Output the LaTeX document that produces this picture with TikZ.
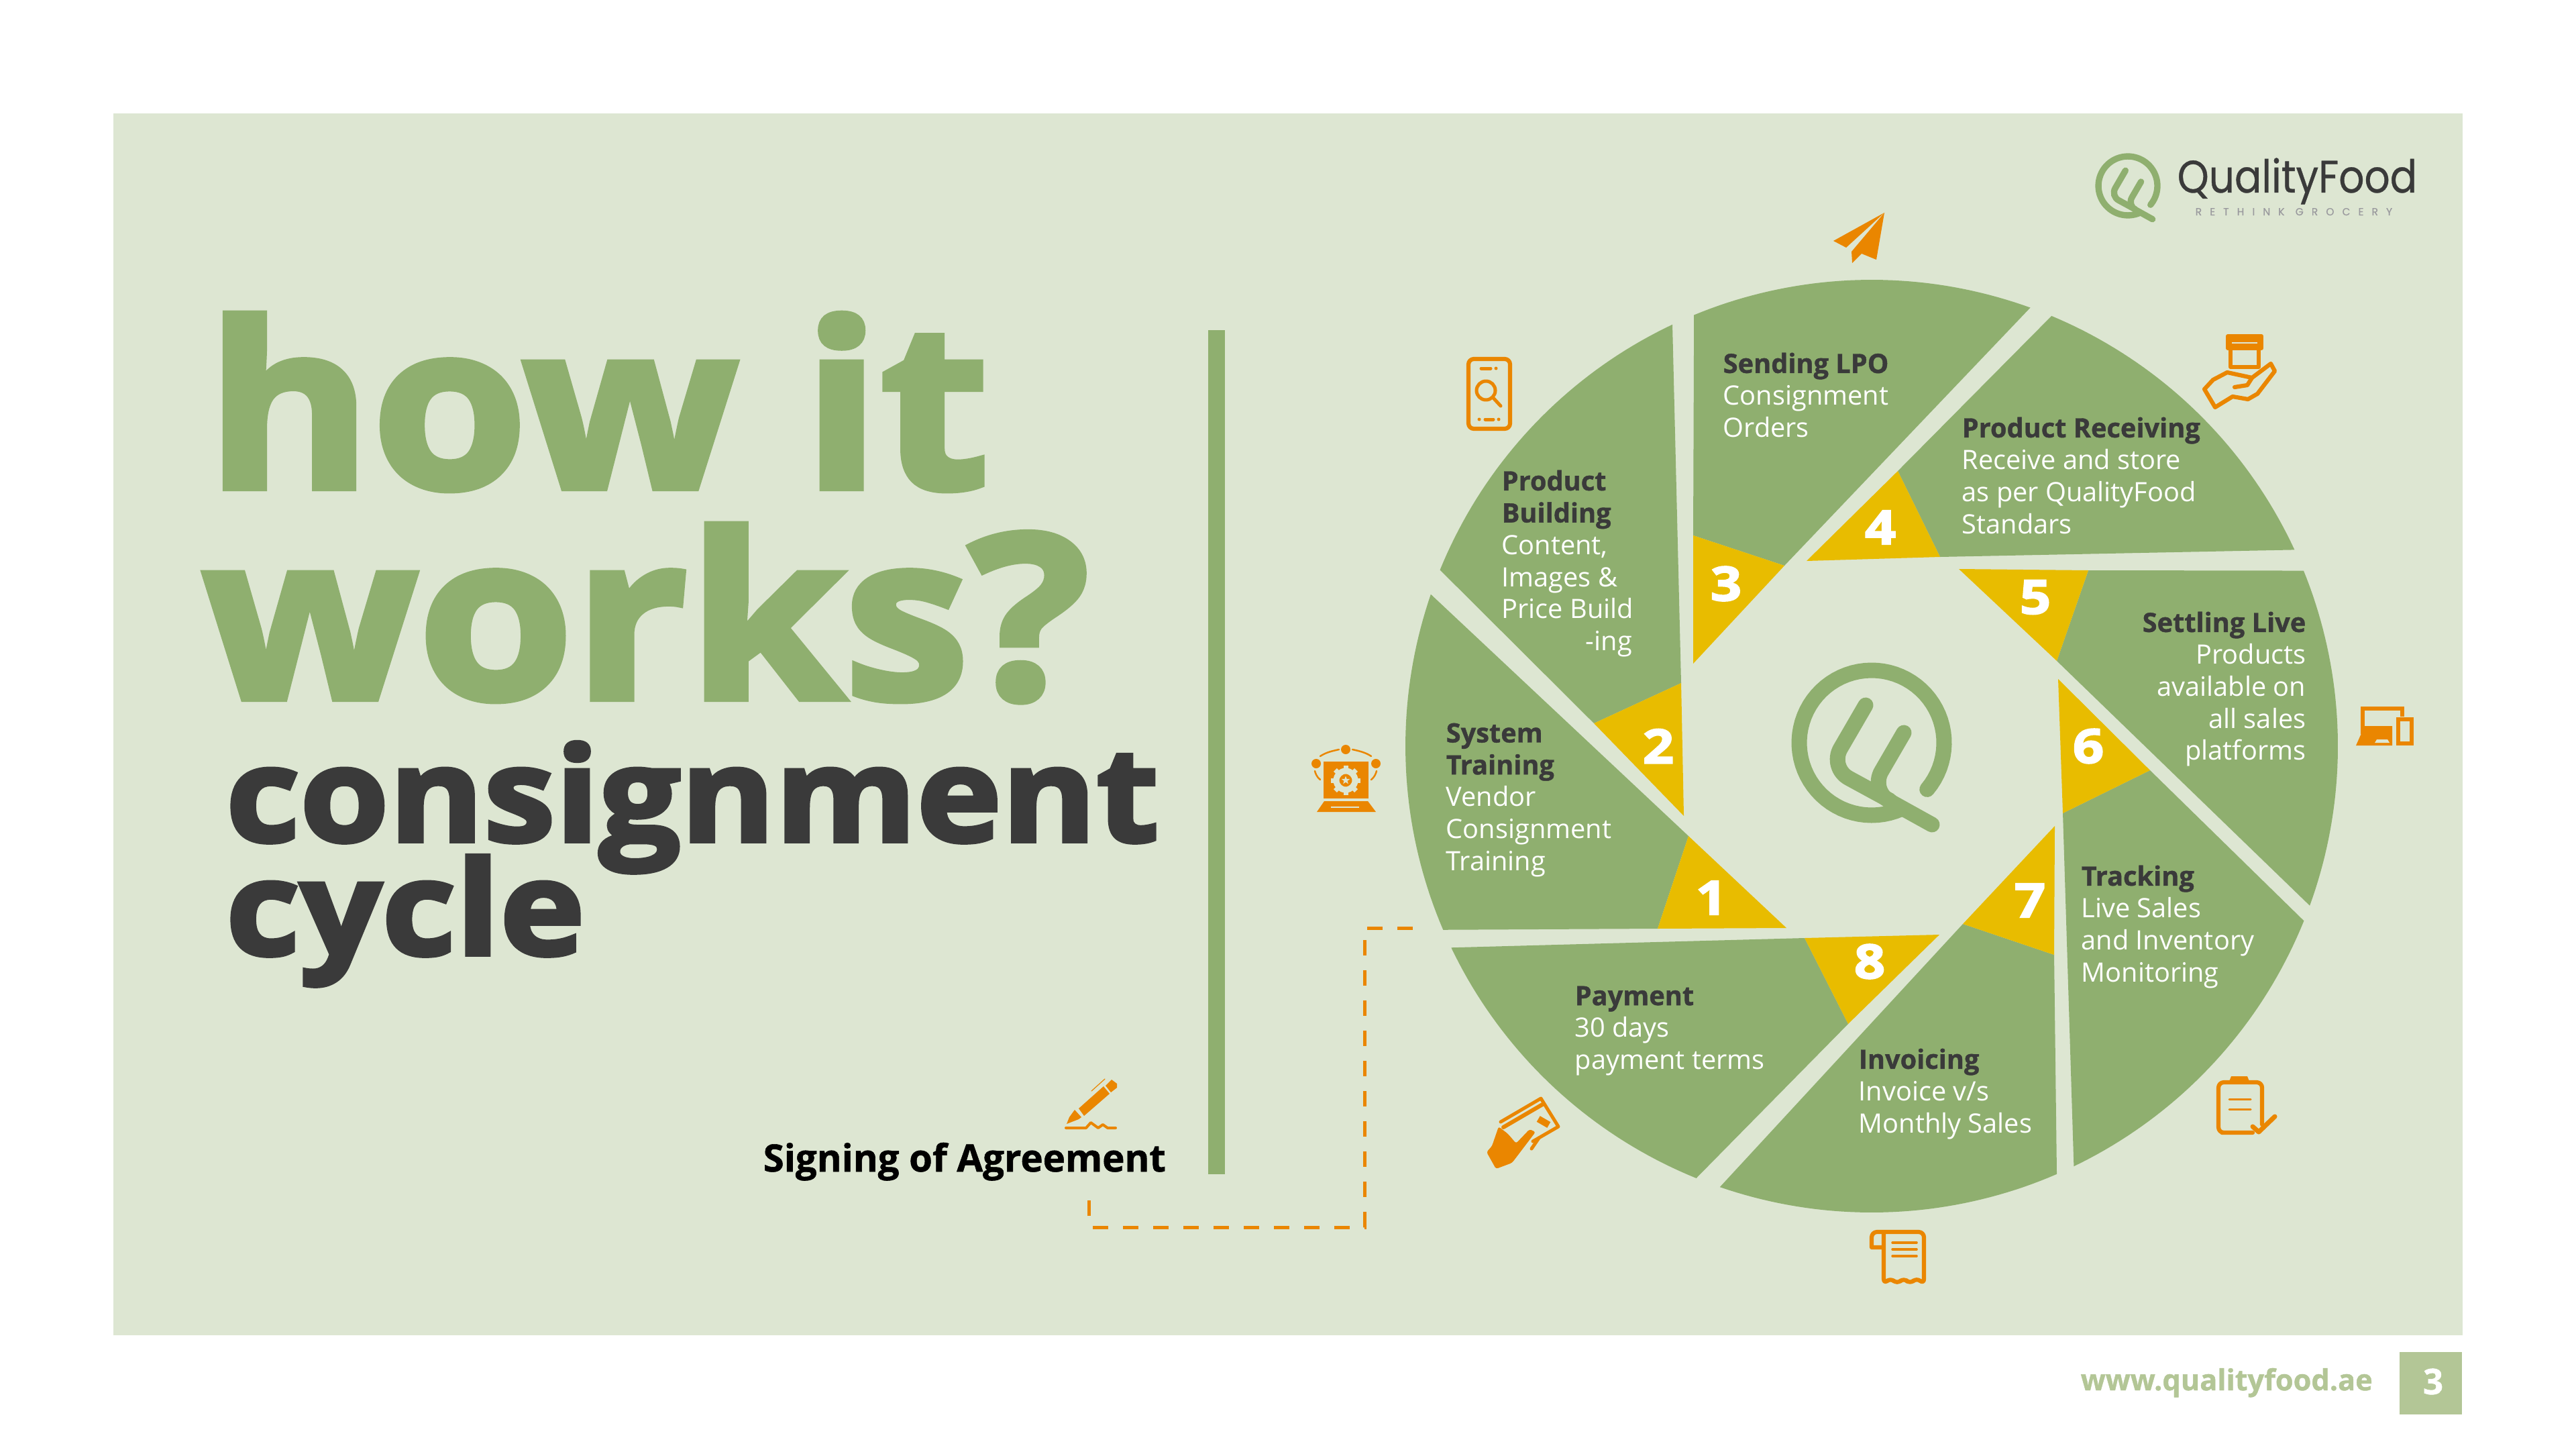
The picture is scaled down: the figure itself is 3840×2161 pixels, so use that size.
\documentclass[tikz,border=0pt]{standalone}
\usepackage{fontspec}
\setmainfont[BoldFeatures={FakeBold=1}]{Open Sans}
\newfontfamily\heavyfont[UprightFont={* Bold},FakeBold=3,FakeStretch=1.1]{Open Sans}
\newfontfamily\numfont[UprightFont={* Bold},FakeBold=3,FakeStretch=1.15]{Open Sans}
\newfontfamily\brandfont[FakeStretch=0.88,FakeBold=0.5]{Poppins}
\newfontfamily\tagfont[LetterSpace=78,FakeBold=0.5]{Poppins}
\usepackage{tikz}
\usetikzlibrary{positioning, shapes.geometric}
\definecolor{panelgreen}{HTML}{DDE6D2}
\definecolor{petalgreen}{HTML}{8FAF6F}
\definecolor{wedgeyellow}{HTML}{E8BC00}
\definecolor{iconorange}{HTML}{EA8600}
\definecolor{inkdark}{HTML}{3A3A3A}
\definecolor{footgreen}{HTML}{B3C696}
\definecolor{taggray}{HTML}{9A9A9E}
\newcommand{\rimarc}[2]{plot[domain=#1:#2,samples=40] ({2790+695*cos(\x)},{1112+695*sin(\x)})}
\newcommand{\steptitle}[1]{{\color{inkdark}\bfseries #1}}
\newcommand{\qualitymark}[3]{%
  \begin{scope}[shift={(#1,#2)}, scale=#3, line width=#3*0.23cm,
      draw=petalgreen, line cap=round]
    \draw plot[domain=40:-294,samples=70] ({108*cos(\x)},{108*sin(\x)});
    \draw[rounded corners=#3*0.33cm] (-9,-56) -- (-63,37) -- (27,86);
    \draw[rounded corners=#3*0.33cm] (48,-15) -- (-2,71) -- (90,122);
  \end{scope}}
\begin{document}
\begin{tikzpicture}[
  x=0.01cm, y=-0.01cm,
  petal/.style={fill=petalgreen},
  wedge/.style={fill=wedgeyellow},
  stepbody/.style={anchor=north west, inner sep=0pt, align=left, text=white, font=\fontsize{11.3}{13.57}\selectfont},
  stepnum/.style={inner sep=0pt, text=white, font=\numfont\fontsize{20}{20}\selectfont},
  bigword/.style={anchor=base west, inner sep=0pt, text=petalgreen, font=\heavyfont\fontsize{97}{97}\selectfont},
  midword/.style={anchor=base west, inner sep=0pt, text=inkdark, font=\heavyfont\fontsize{55.5}{55.5}\selectfont},
  icon/.style={draw=iconorange, line width=0.062cm, line join=round, line cap=round},
  iconfill/.style={fill=iconorange}
]
\useasboundingbox (0,0) rectangle (3840,2161);
\fill[white] (0,0) rectangle (3840,2161);
\fill[panelgreen] (169,169) rectangle (3671,1990);
\fill[petalgreen] (1801,492) rectangle (1826,1750);

% headline
\node[bigword] (howit) at (307,727) {how it};
\node[bigword] (works) at (301,1041) {works?};
\node[midword] (consign) at (336,1254) {consignment};
\node[midword] (cycle) at (336,1423) {cycle};

% wheel
\fill[petal] \rimarc{-112.4}{-70.1} -- (2660,843) -- (2524,798) -- cycle;
\fill[wedge] (2524,798) -- (2660,843) -- (2524,989) -- cycle;
\fill[petal] \rimarc{-157.8}{-115.3} -- (2506,1018) -- (2376,1078) -- cycle;
\fill[wedge] (2376,1078) -- (2506,1018) -- (2510,1216) -- cycle;
\fill[petal] \rimarc{156.8}{199} -- (2517,1246) -- (2471,1384) -- cycle;
\fill[wedge] (2471,1384) -- (2517,1246) -- (2663,1383) -- cycle;
\fill[petal] \rimarc{112.1}{154.4} -- (2690,1398) -- (2755,1526) -- cycle;
\fill[wedge] (2690,1398) -- (2891,1393) -- (2755,1526) -- cycle;
\fill[petal] \rimarc{66.6}{109} -- (2926,1377) -- (3062,1423) -- cycle;
\fill[wedge] (2926,1377) -- (3062,1423) -- (3063,1231) -- cycle;
\fill[petal] \rimarc{22}{64.3} -- (3075,1212) -- (3205,1148) -- cycle;
\fill[wedge] (3075,1212) -- (3205,1148) -- (3068,1012) -- cycle;
\fill[petal] \rimarc{-22.1}{20} -- (3066,985) -- (3113,850) -- cycle;
\fill[wedge] (2920,848) -- (3113,850) -- (3066,985) -- cycle;
\fill[petal] \rimarc{-67.3}{-24.9} -- (2892,830) -- (2829,702) -- cycle;
\fill[wedge] (2693,836) -- (2829,702) -- (2892,830) -- cycle;

\node[stepnum] (num1) at (2551,1338) {1};
\node[stepnum] (num2) at (2472,1112) {2};
\node[stepnum] (num3) at (2573,870) {3};
\node[stepnum] (num4) at (2803,786) {4};
\node[stepnum] (num5) at (3034,890) {5};
\node[stepnum] (num6) at (3113,1112) {6};
\node[stepnum] (num7) at (3026,1342) {7};
\node[stepnum] (num8) at (2787,1433) {8};

\node[stepbody] (lpo) at (2568,525) {\steptitle{Sending LPO}\\Consignment\\Orders};
\node[stepbody] (building) at (2238,700) {\steptitle{Product}\\\steptitle{Building}\\Content,\\Images \&\\Price Build\\\hspace*{1.25cm}-ing};
\node[stepbody] (training) at (2155,1077) {\steptitle{System}\\\steptitle{Training}\\Vendor\\Consignment\\Training};
\node[stepbody] (payment) at (2347,1469) {\steptitle{Payment}\\30 days\\payment terms};
\node[stepbody] (invoicing) at (2770,1562) {\steptitle{Invoicing}\\Invoice v/s\\Monthly Sales};
\node[stepbody] (tracking) at (3102,1289) {\steptitle{Tracking}\\Live Sales\\and Inventory\\Monitoring};
\node[stepbody, anchor=north east, align=right] (settling) at (3438,911) {\steptitle{Settling Live}\\Products\\available on\\all sales\\platforms};
\node[stepbody] (receiving) at (2924,621) {\steptitle{Product Receiving}\\Receive and store\\as per QualityFood\\Standars};

% logos
\qualitymark{2790}{1107}{1}
\qualitymark{3172}{277}{0.407}
\node[anchor=base west, inner sep=0pt, text=inkdark, font=\brandfont\fontsize{19.3}{19.3}\selectfont] (brand) at (3245,287) {QualityFood};
\node[anchor=base west, inner sep=0pt, text=taggray, font=\tagfont\fontsize{4.4}{4.4}\selectfont] (tagline) at (3272,321) {RETHINK GROCERY};

% footer
\node[anchor=base west, inner sep=0pt, text=footgreen, font=\bfseries\fontsize{12.3}{12.3}\selectfont] (site) at (3101,2072) {www.qualityfood.ae};
\fill[footgreen] (3577,2015) rectangle (3670,2108);
\node[inner sep=0pt, text=white, font=\bfseries\fontsize{15}{15}\selectfont] (pagenum) at (3627,2059) {3};

% signing
\node[anchor=base west, inner sep=0pt, text=black, font=\bfseries\fontsize{16}{16}\selectfont] (signing) at (1137,1746) {Signing of Agreement};
\coordinate (wheelend) at (2106,1383);
\coordinate (signend) at (1623,1770);
\draw[iconorange, line width=0.05cm, dash pattern=on 0.23cm off 0.22cm] (wheelend) -- (2034,1383) -- (2034,1829) -- (1623,1829) -- (signend);

% icons: plane
\fill[iconorange, line join=round] (2809,317) -- (2733,359) -- (2752,369) -- cycle;
\fill[iconorange, line join=round] (2809,317) -- (2760,375) -- (2761,392) -- (2775,378) -- (2797,387) -- cycle;
% phone
\draw[icon, rounded corners=0.08cm] (2189,535) rectangle (2251,639);
\draw[icon, line width=0.05cm] (2208,549) -- (2222,549) (2230,549) -- (2230,549);
\draw[icon, line width=0.05cm] (2215,582) circle (14) (2225,592) -- (2237,605);
\draw[icon, line width=0.05cm] (2205,625) -- (2205,625) (2214,625) -- (2226,625) (2234,625) -- (2234,625);
% box in hand
\draw[icon, fill=iconorange] (3321,501) rectangle (3371,519);
\draw[panelgreen, line width=0.025cm] (3327,511) -- (3365,511);
\draw[icon] (3325,519) rectangle (3367,547);
\draw[icon] (3286,580) -- (3302,607) -- (3328,591) -- (3351,595) -- (3365,587) -- (3391,553) -- (3385,542) -- (3357,563) -- (3320,555) -- (3299,566) -- cycle;
\draw[icon] (3331,577) -- (3350,574) -- (3357,563);
% laptop and phone
\draw[iconorange, line width=0.06cm] (3522,1094) -- (3522,1056) -- (3581,1056) -- (3581,1068);
\fill[iconorange] (3524,1082) -- (3566,1082) -- (3566,1111) -- (3512,1111) -- (3520,1093) -- cycle;
\fill[panelgreen] (3543,1102) -- (3559,1102) -- (3562,1107) -- (3540,1107) -- cycle;
\draw[iconorange, line width=0.06cm] (3575,1072) rectangle (3595,1108);
% clipboard
\draw[icon] (3358,1688) -- (3312,1688) [rounded corners=0.08cm] -- (3307,1688) -- (3307,1613) -- (3372,1613) -- (3372,1676);
\fill[iconorange] (3322,1614) -- (3326,1604) -- (3350,1604) -- (3354,1614) -- cycle;
\draw[icon, line width=0.03cm] (3323,1638) -- (3355,1638) (3323,1653) -- (3355,1653);
\draw[icon, line width=0.07cm] (3358,1679) -- (3367,1687) -- (3391,1664);
% receipt
\draw[icon] (2807,1859) -- (2790,1859) -- (2790,1845) [rounded corners=0.08cm] -- (2790,1836) -- (2868,1836) -- (2868,1914) -- (2857,1904) -- (2847,1914) -- (2838,1904) -- (2828,1914) -- (2818,1904) -- (2808,1914) -- (2808,1836);
\draw[icon, line width=0.035cm] (2821,1852) -- (2857,1852) (2821,1862) -- (2857,1862) (2821,1872) -- (2857,1872);
% card in hand
\draw[icon, line width=0.05cm] (2237,1672) -- (2297,1637) -- (2323,1679) -- (2285,1701);
\draw[icon, line width=0.06cm] (2241,1680) -- (2301,1645);
\fill[iconorange, rotate around={-30:(2301,1672)}] (2292,1667) rectangle (2310,1677);
\fill[iconorange, rounded corners=0.03cm] (2216,1717) -- (2224,1708) -- (2234,1679) -- (2248,1690) -- (2260,1704) -- (2280,1683) -- (2289,1687) -- (2254,1733) -- (2230,1742) -- cycle;
\draw[icon, line width=0.05cm] (2283,1712) -- (2294,1696);
% laptop with gear
\fill[iconorange] (1973,1135) rectangle (2040,1190);
\fill[iconorange] (1963,1210) -- (1974,1194) -- (2039,1194) -- (2051,1210) -- cycle;
\draw[panelgreen, line width=0.025cm] (1984,1203) -- (2026,1203);
\foreach \toothangle in {0,45,...,315}
  \draw[panelgreen, line width=0.07cm] (2006,1163) ++(\toothangle:17) -- ++(\toothangle:5);
\draw[panelgreen, line width=0.09cm] (2006,1163) circle (14);
\node[star, star points=5, star point ratio=2.4, fill=panelgreen, inner sep=0pt, minimum size=0.13cm] (gearstar) at (2006,1163) {};
\fill[iconorange] (2006,1117) circle (7) (1962,1138) circle (7) (2051,1138) circle (7);
\draw[icon, line width=0.025cm] (1968,1127) .. controls (1977,1121) and (1987,1119) .. (1996,1117);
\draw[icon, line width=0.025cm] (2044,1127) .. controls (2035,1121) and (2025,1119) .. (2016,1117);
\draw[icon, line width=0.025cm] (1960,1149) .. controls (1961,1153) and (1963,1158) .. (1968,1162);
\draw[icon, line width=0.025cm] (2052,1149) .. controls (2051,1153) and (2049,1158) .. (2044,1162);
% pen
\fill[iconorange] (1608,1652) -- (1645,1619) -- (1654,1630) -- (1616,1663) -- cycle;
\fill[iconorange] (1648,1618) -- (1657,1609) -- (1665,1615) -- (1665,1621) -- (1656,1628) -- cycle;
\fill[iconorange] (1602,1654) -- (1612,1665) -- (1608,1668) -- (1590,1675) -- (1594,1665) -- cycle;
\draw[icon, line width=0.012cm] (1627,1626) -- (1647,1608);
\draw[icon, line width=0.04cm] (1589,1681) -- (1619,1681) -- (1626,1673) -- (1637,1681) -- (1644,1676) -- (1651,1681) -- (1663,1681);
\end{tikzpicture}
\end{document}
